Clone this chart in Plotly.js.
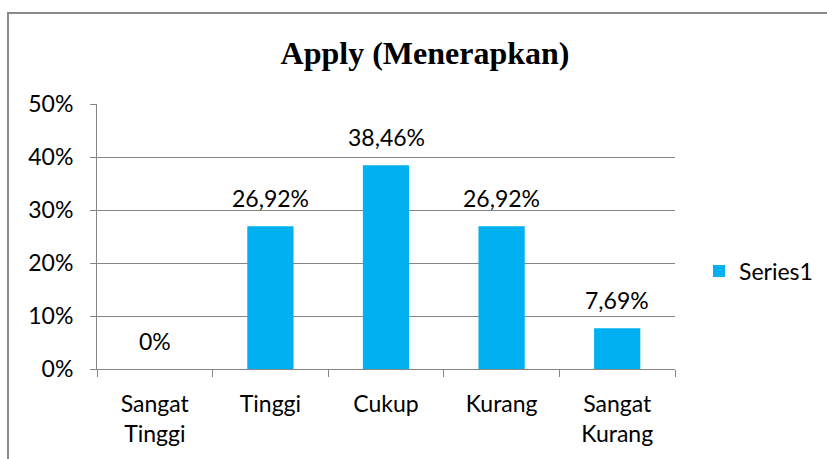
<!DOCTYPE html>
<html>
<head>
<meta charset="utf-8">
<script src="https://cdn.plot.ly/plotly-3.0.1.min.js"></script>
<style>
html,body{margin:0;padding:0;background:#fff;overflow:hidden;}
#wrap{position:relative;width:827px;height:459px;}
#frame{position:absolute;left:7px;top:12px;width:900px;height:500px;border:2px solid #8a8a8a;box-sizing:border-box;pointer-events:none;z-index:5;}
#chart{position:absolute;left:0;top:0;width:827px;height:459px;}
</style>
</head>
<body>
<div id="wrap"><div id="chart"></div><div id="frame"></div></div>
<script>
var categories = ["Sangat Tinggi", "Tinggi", "Cukup", "Kurang", "Sangat Kurang"];
var tickLabels = ["Sangat<br>Tinggi", "Tinggi", "Cukup", "Kurang", "Sangat<br>Kurang"];
var values = [0, 26.92, 38.46, 26.92, 7.69];
var seriesName = "Series1";
var yTicks = [0, 10, 20, 30, 40, 50];

function fmt(v){ return v === 0 ? "0%" : v.toFixed(2).replace(".", ",") + "%"; }

var font = "Lato, 'Noto Sans', sans-serif";
var trace = {
  type: "bar",
  x: categories,
  y: values,
  name: seriesName,
  marker: {color: "#00B0F0"},
  hoverinfo: "skip",
  showlegend: true
};

var annotations = categories.map(function(c, i){
  return {x: c, y: values[i], xref: "x", yref: "y", text: fmt(values[i]),
    showarrow: false, yanchor: "bottom", yshift: 12,
    font: {family: font, size: 23, color: "#000"}};
});

var layout = {
  width: 827, height: 459,
  margin: {l: 97, r: 152, t: 104, b: 90, pad: 0, autoexpand: false},
  paper_bgcolor: "#fff", plot_bgcolor: "#fff",
  bargap: 0.6,
  title: {text: "<b>Apply (Menerapkan)</b>", xref: "container", yref: "container",
    x: 425/827, xanchor: "center", y: 1 - 53/459, yanchor: "middle",
    font: {family: "'Liberation Serif', 'Times New Roman', serif", size: 32, color: "#000"}},
  xaxis: {type: "category", categoryarray: categories, tickvals: categories, ticktext: tickLabels,
    tickson: "boundaries", ticks: "outside", ticklen: 7, tickcolor: "#868686", tickwidth: 1,
    showline: true, linecolor: "#868686", linewidth: 1, showgrid: false,
    ticklabelstandoff: 14, automargin: false,
    tickfont: {family: font, size: 23, color: "#000"}, fixedrange: true},
  yaxis: {range: [0, 50], tickvals: yTicks, ticktext: yTicks.map(function(t){return t + "%";}),
    ticks: "outside", ticklen: 6, tickcolor: "#868686", tickwidth: 1,
    showline: true, linecolor: "#868686", linewidth: 1,
    showgrid: true, gridcolor: "#868686", gridwidth: 1, zeroline: false,
    ticklabelstandoff: 12, automargin: false,
    tickfont: {family: font, size: 23, color: "#000"}, fixedrange: true},
  legend: {x: (699-97)/578, xanchor: "left", y: 0.37, yanchor: "middle",
    font: {family: font, size: 23, color: "#000"}, bgcolor: "rgba(0,0,0,0)"},
  annotations: annotations,
  showlegend: true
};

Plotly.newPlot("chart", [trace], layout, {displayModeBar: false, staticPlot: true});
</script>
</body>
</html>
